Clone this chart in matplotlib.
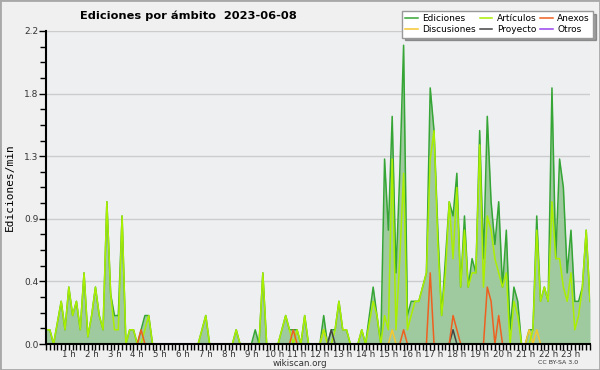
import numpy as np
import matplotlib
matplotlib.use("Agg")
import matplotlib.pyplot as plt
from matplotlib.patches import Rectangle

# ediciones por minuto, cada 10 minutos (144 puntos)
ediciones = [0.1, 0.1, 0, 0.15, 0.3, 0.1, 0.4, 0.2, 0.3, 0.1,
             0.5, 0.05, 0.2, 0.4, 0.2, 0.1, 1.0, 0.35, 0.2, 0.2,
             0.9, 0, 0.1, 0.1, 0, 0.1, 0.2, 0.2, 0, 0,
             0, 0, 0, 0, 0, 0, 0, 0, 0, 0,
             0, 0.1, 0.2, 0, 0, 0, 0, 0, 0, 0,
             0.1, 0, 0, 0, 0, 0.1, 0, 0.5, 0, 0,
             0, 0, 0.1, 0.2, 0.1, 0.1, 0.1, 0, 0.2, 0,
             0, 0, 0, 0.2, 0, 0.1, 0.1, 0.3, 0.1, 0.1,
             0, 0, 0, 0.1, 0, 0.2, 0.4, 0.2, 0, 1.3,
             0.8, 1.6, 0.5, 1.2, 2.1, 0.2, 0.3, 0.3, 0.3, 0.4,
             0.5, 1.8, 1.5, 0.8, 0.2, 0.6, 1.0, 0.9, 1.2, 0.4,
             0.9, 0.4, 0.6, 0.5, 1.5, 0.6, 1.6, 1.0, 0.7, 1.0,
             0.4, 0.8, 0.1, 0.4, 0.3, 0, 0, 0.1, 0.1, 0.9,
             0.3, 0.4, 0.3, 1.8, 0.6, 1.3, 1.1, 0.5, 0.8, 0.3,
             0.3, 0.4, 0.8, 0.3]
articulos = [0.1, 0.1, 0, 0.15, 0.3, 0.1, 0.4, 0.2, 0.3, 0.1,
             0.5, 0.05, 0.2, 0.4, 0.2, 0.1, 1.0, 0.35, 0.1, 0.1,
             0.9, 0, 0.1, 0.1, 0, 0, 0.1, 0.2, 0, 0,
             0, 0, 0, 0, 0, 0, 0, 0, 0, 0,
             0, 0.1, 0.2, 0, 0, 0, 0, 0, 0, 0,
             0.1, 0, 0, 0, 0, 0, 0, 0.5, 0, 0,
             0, 0, 0.1, 0.2, 0.1, 0, 0.1, 0, 0.2, 0,
             0, 0, 0, 0.1, 0, 0, 0.1, 0.3, 0.1, 0.1,
             0, 0, 0, 0.1, 0, 0.15, 0.3, 0.2, 0, 0.2,
             0.1, 1.3, 0.1, 0.6, 1.2, 0.1, 0.2, 0.3, 0.3, 0.4,
             0.5, 1.3, 1.5, 0.7, 0.2, 0.5, 1.0, 0.6, 1.1, 0.4,
             0.8, 0.4, 0.5, 0.5, 1.4, 0.4, 0.9, 0.8, 0.6, 0.5,
             0.4, 0.5, 0, 0.3, 0.2, 0, 0, 0, 0.1, 0.8,
             0.3, 0.4, 0.3, 1.0, 0.6, 0.6, 0.4, 0.3, 0.5, 0.1,
             0.2, 0.4, 0.8, 0.3]
anexos = {25: 0.1, 65: 0.1, 94: 0.1, 101: 0.5, 107: 0.2, 108: 0.1,
          116: 0.4, 117: 0.3, 119: 0.2}
discusiones = {73: 0.1, 91: 0.1, 127: 0.1, 129: 0.1}
proyecto = {75: 0.1, 107: 0.1}
otros = {}

horas = ["%d h" % h for h in range(1, 24)]
yticks = [0, 0.44, 0.88, 1.32, 1.76, 2.2]
ylabels = ["0.0", "0.4", "0.9", "1.3", "1.8", "2.2"]

n = len(ediciones)
x = np.arange(n)


def serie(d):
    s = np.zeros(n)
    for k, v in d.items():
        s[k] = v
    return s


fig = plt.figure(figsize=(6, 3.7), dpi=100, facecolor="#f0f0f0")
fig.patches.append(Rectangle((0, 0), 1, 1, transform=fig.transFigure,
                             fill=False, edgecolor="#a8a8a8", lw=2))
ax = fig.add_axes([46 / 600, 1 - 344 / 370, 544 / 600, 313 / 370])
ax.set_facecolor("#eeeff1")

ax.fill_between(x, ediciones, color="#9fc99f", lw=0)
ax.plot(x, ediciones, color="#35a535", lw=1.1, label="Ediciones")
ax.plot(x, serie(discusiones), color="#f5c830", lw=1.1, label="Discusiones")
ax.plot(x, articulos, color="#aaee00", lw=1.1, label="Artículos")
ax.plot(x, serie(proyecto), color="#444444", lw=1.1, label="Proyecto")
ax.plot(x, serie(anexos), color="#ee6020", lw=1.1, label="Anexos")
ax.plot(x, serie(otros), color="#9944ee", lw=1.1, label="Otros")

ax.set_xlim(0, n - 1)
ax.set_ylim(0, 2.2)
for s in ["top", "right"]:
    ax.spines[s].set_visible(False)
for s in ["left", "bottom"]:
    ax.spines[s].set_linewidth(1.5)
    ax.spines[s].set_zorder(5)

ax.set_yticks(yticks)
ax.set_yticklabels(ylabels, fontsize=6.5, color="#333333")
ax.set_yticks(np.arange(0, 2.2, 0.11), minor=True)
ax.yaxis.grid(True, color="#cccccc", lw=1)
ax.set_axisbelow(True)

ax.set_xticks(np.arange(6, 144, 6))
ax.set_xticklabels(horas, fontsize=6.2, color="#333333")
ax.set_xticks(x, minor=True)
ax.tick_params(axis="x", which="both", length=4, width=1, pad=0.3)
ax.tick_params(axis="y", which="major", length=5, width=1, pad=0.5)
ax.tick_params(axis="y", which="minor", length=4, width=1)

ax.set_ylabel("Ediciones/min", family="DejaVu Sans Mono", fontsize=8)
ax.yaxis.set_label_coords(-0.058, 0.5)

fig.text(188 / 600, 1 - 16 / 370, "Ediciones por ámbito  2023-06-08",
         ha="center", va="center", fontsize=8.2, fontweight="bold")
fig.text(300 / 600, 1 - 363.5 / 370, "wikiscan.org", ha="center",
         va="center", fontsize=6.3, color="#333333")
fig.text(558 / 600, 1 - 363 / 370, "CC BY-SA 3.0", ha="center",
         va="center", fontsize=4.5, color="#333333")

ax.legend(loc="upper right", bbox_to_anchor=(593 / 600, 1 - 11 / 370),
          bbox_transform=fig.transFigure, ncol=3, fontsize=6.5,
          frameon=True, fancybox=False, shadow=True, framealpha=1,
          edgecolor="#999999", handlelength=1.4, handletextpad=0.5,
          columnspacing=0.4, labelspacing=0.25, borderpad=0.35,
          borderaxespad=0)

fig.savefig("out.png", dpi=100, facecolor=fig.get_facecolor())
